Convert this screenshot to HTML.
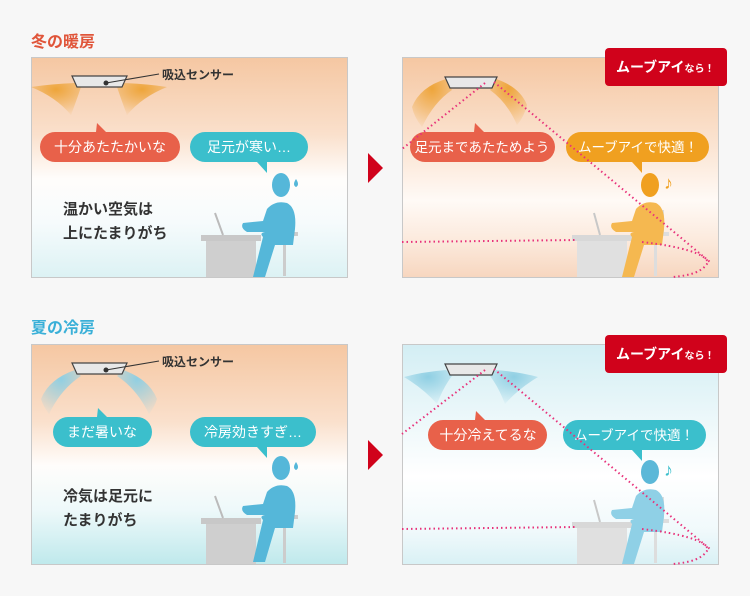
<!DOCTYPE html>
<html><head><meta charset="utf-8"><style>
body{margin:0;background:#f7f7f7;}
svg{display:block;font-family:"Liberation Sans","Noto Sans CJK JP",sans-serif;}
</style></head><body>
<svg width="750" height="596" viewBox="0 0 750 596" xmlns="http://www.w3.org/2000/svg">
<defs>
<linearGradient id="gw" x1="0" y1="0" x2="0" y2="1">
<stop offset="0" stop-color="#f5c7a2"/><stop offset="0.35" stop-color="#fae0cc"/><stop offset="0.55" stop-color="#fffdfb"/><stop offset="0.75" stop-color="#f6fbfc"/><stop offset="1" stop-color="#dcf2f4"/></linearGradient>
<linearGradient id="gw2" x1="0" y1="0" x2="0" y2="1">
<stop offset="0" stop-color="#f5c7a2"/><stop offset="0.4" stop-color="#fbe4d2"/><stop offset="0.65" stop-color="#fffaf6"/><stop offset="0.85" stop-color="#fbe8da"/><stop offset="1" stop-color="#f7d6bf"/></linearGradient>
<linearGradient id="gs" x1="0" y1="0" x2="0" y2="1">
<stop offset="0" stop-color="#f5c7a2"/><stop offset="0.35" stop-color="#fae0cc"/><stop offset="0.55" stop-color="#fffdfb"/><stop offset="0.75" stop-color="#eef9fa"/><stop offset="1" stop-color="#bfe9ec"/></linearGradient>
<linearGradient id="gs2" x1="0" y1="0" x2="0" y2="1">
<stop offset="0" stop-color="#d3eef4"/><stop offset="0.35" stop-color="#edf8fa"/><stop offset="0.6" stop-color="#ffffff"/><stop offset="0.85" stop-color="#f0f9fb"/><stop offset="1" stop-color="#d9f1f5"/></linearGradient>
<radialGradient id="fo" cx="0.5" cy="0.2" r="0.8"><stop offset="0" stop-color="#eea53a"/><stop offset="1" stop-color="#eea53a" stop-opacity="0.1"/></radialGradient>
<radialGradient id="fb" cx="0.5" cy="0.2" r="0.8"><stop offset="0" stop-color="#8fcfe3"/><stop offset="1" stop-color="#8fcfe3" stop-opacity="0.1"/></radialGradient>
</defs>

<text x="31" y="47" font-size="16" font-weight="bold" fill="#e0553a">冬の暖房</text>
<text x="31" y="333" font-size="16" font-weight="bold" fill="#3ab0d8">夏の冷房</text>
<polygon points="368,153 383,168 368,183" fill="#d0021b"/>
<polygon points="368,440 383,455 368,470" fill="#d0021b"/>

<!-- TL -->
<g transform="translate(31,57)">
<rect x="0.5" y="0.5" width="316" height="220" fill="url(#gw)" stroke="#c8c8c8"/>
<path d="M44,26 Q20,27 0,30 Q25,40 40,58 Q46,42 50,30Z" fill="url(#fo)"/>
<path d="M92,26 Q116,27 136,30 Q111,40 96,58 Q90,42 86,30Z" fill="url(#fo)"/>
<polygon points="41,19 96,19 91,30 46,30" fill="#e8e8e8" stroke="#444" stroke-width="1.2"/>
<circle cx="75" cy="26" r="2.5" fill="#333"/><line x1="75" y1="26" x2="128" y2="17" stroke="#333"/>
<text x="131" y="22" font-size="12" font-weight="bold" fill="#333">吸込センサー</text>
<rect x="9" y="75" width="140" height="30" rx="15" fill="#e8614a"/><polygon points="65,75 75,75 66,66" fill="#e8614a"/>
<text x="79" y="95" font-size="14" fill="#fff" text-anchor="middle">十分あたたかいな</text>
<rect x="159" y="75" width="118" height="30" rx="15" fill="#3bbfcc"/><polygon points="226,105 236,105 236,116" fill="#3bbfcc"/>
<text x="218" y="95" font-size="14" fill="#fff" text-anchor="middle">足元が寒い…</text>
<text x="32" y="157" font-size="15" font-weight="bold" fill="#333">温かい空気は</text>
<text x="32" y="181" font-size="15" font-weight="bold" fill="#333">上にたまりがち</text>
<g fill="#55b7d9">
<rect x="170" y="178" width="60" height="6" fill="#c8c8c8"/><rect x="175" y="184" width="50" height="36" fill="#cfcfcf"/>
<line x1="184" y1="156" x2="192" y2="178" stroke="#bbb" stroke-width="2"/>
<rect x="235" y="175" width="32" height="4" fill="#ccc"/><rect x="252" y="179" width="3" height="40" fill="#ccc"/><rect x="258" y="153" width="4" height="25" fill="#ccc"/>
<ellipse cx="250" cy="128" rx="9" ry="12"/>
<path d="M236,152 Q244,143 256,146 Q266,151 264,172 L262,188 L244,188 L234,220 L222,220 L232,180 Q228,176 234,175 L216,175 Q209,171 212,166 L232,164Z"/>
<path d="M265,122 q4,6 0,8 q-4,-2 0,-8z"/>
</g>
</g>

<!-- TR -->
<g transform="translate(402,57)">
<rect x="0.5" y="0.5" width="316" height="220" fill="url(#gw2)" stroke="#c8c8c8"/>
<path d="M44,22 Q18,30 10,50 Q12,60 20,70 Q32,45 50,33Z" fill="url(#fo)"/>
<path d="M94,22 Q118,30 125,48 Q122,60 115,68 Q105,45 88,33Z" fill="url(#fo)"/>
<polygon points="43,20 95,20 90,31 48,31" fill="#e8e8e8" stroke="#444" stroke-width="1.2"/>
<rect x="8" y="75" width="145" height="30" rx="15" fill="#e8614a"/><polygon points="72,75 82,75 73,66" fill="#e8614a"/>
<text x="80" y="95" font-size="13.5" fill="#fff" text-anchor="middle">足元まであたためよう</text>
<rect x="164" y="75" width="143" height="30" rx="15" fill="#f0a020"/><polygon points="230,105 240,105 240,116" fill="#f0a020"/>
<text x="236" y="95" font-size="13.5" fill="#fff" text-anchor="middle">ムーブアイで快適！</text>
<text x="262" y="132" font-size="18" fill="#f0a020">♪</text>
<g fill="#f0a020">
<rect x="170" y="178" width="60" height="6" fill="#d8d8d8"/><rect x="175" y="184" width="50" height="36" fill="#e0e0e0"/>
<line x1="192" y1="156" x2="198" y2="178" stroke="#c8c8c8" stroke-width="2"/>
<rect x="235" y="175" width="32" height="4" fill="#ddd"/><rect x="252" y="179" width="3" height="40" fill="#ddd"/><rect x="258" y="153" width="4" height="25" fill="#ddd"/>
<ellipse cx="248" cy="128" rx="9" ry="12"/>
<path d="M234,152 Q242,143 254,146 Q264,151 262,172 L260,188 L242,188 L232,220 L220,220 L230,180 Q226,176 232,175 L214,175 Q207,171 210,166 L230,164Z" fill="#f5b850"/>
</g>
<g fill="none" stroke="#e8317a" stroke-width="2" stroke-dasharray="1.5,3">
<path d="M83,26 L0,92"/><path d="M92,25 L308,205"/>
<path d="M0,185 L175,183"/><path d="M240,185 Q300,192 306,205 Q300,218 270,220"/>
</g>
</g>

<!-- BL -->
<g transform="translate(31,344)">
<rect x="0.5" y="0.5" width="316" height="220" fill="url(#gs)" stroke="#c8c8c8"/>
<path d="M44,26 Q18,35 10,55 Q12,62 18,70 Q30,45 50,32Z" fill="url(#fb)"/>
<path d="M92,26 Q118,35 126,55 Q124,62 118,70 Q106,45 86,32Z" fill="url(#fb)"/>
<polygon points="41,19 96,19 91,30 46,30" fill="#e8e8e8" stroke="#444" stroke-width="1.2"/>
<circle cx="75" cy="26" r="2.5" fill="#333"/><line x1="75" y1="26" x2="128" y2="17" stroke="#333"/>
<text x="131" y="22" font-size="12" font-weight="bold" fill="#333">吸込センサー</text>
<rect x="22" y="73" width="99" height="30" rx="15" fill="#3bbfcc"/><polygon points="66,73 76,73 67,64" fill="#3bbfcc"/>
<text x="71" y="93" font-size="14" fill="#fff" text-anchor="middle">まだ暑いな</text>
<rect x="159" y="73" width="126" height="30" rx="15" fill="#3bbfcc"/><polygon points="226,103 236,103 236,114" fill="#3bbfcc"/>
<text x="222" y="93" font-size="14" fill="#fff" text-anchor="middle">冷房効きすぎ…</text>
<text x="32" y="157" font-size="15" font-weight="bold" fill="#333">冷気は足元に</text>
<text x="32" y="181" font-size="15" font-weight="bold" fill="#333">たまりがち</text>
<g fill="#55b7d9">
<rect x="170" y="174" width="60" height="6" fill="#c8c8c8"/><rect x="175" y="180" width="50" height="40" fill="#cfcfcf"/>
<line x1="184" y1="152" x2="192" y2="174" stroke="#bbb" stroke-width="2"/>
<rect x="235" y="171" width="32" height="4" fill="#ccc"/><rect x="252" y="175" width="3" height="44" fill="#ccc"/><rect x="258" y="149" width="4" height="25" fill="#ccc"/>
<ellipse cx="250" cy="124" rx="9" ry="12"/>
<path d="M236,148 Q244,139 256,142 Q266,147 264,168 L262,184 L244,184 L234,218 L222,218 L232,176 Q228,172 234,171 L216,171 Q209,167 212,162 L232,160Z"/>
<path d="M265,118 q4,6 0,8 q-4,-2 0,-8z"/>
</g>
</g>

<!-- BR -->
<g transform="translate(402,344)">
<rect x="0.5" y="0.5" width="316" height="220" fill="url(#gs2)" stroke="#c8c8c8"/>
<path d="M44,26 Q20,28 2,33 Q22,45 35,60 Q42,42 50,32Z" fill="url(#fb)"/>
<path d="M94,26 Q118,28 136,33 Q116,45 103,60 Q96,42 88,32Z" fill="url(#fb)"/>
<polygon points="43,20 95,20 90,31 48,31" fill="#e8e8e8" stroke="#444" stroke-width="1.2"/>
<rect x="26" y="76" width="119" height="30" rx="15" fill="#e8614a"/><polygon points="73,76 83,76 74,67" fill="#e8614a"/>
<text x="86" y="96" font-size="14" fill="#fff" text-anchor="middle">十分冷えてるな</text>
<rect x="161" y="76" width="143" height="30" rx="15" fill="#3bbfcc"/><polygon points="230,106 240,106 240,117" fill="#3bbfcc"/>
<text x="232" y="96" font-size="13.5" fill="#fff" text-anchor="middle">ムーブアイで快適！</text>
<text x="262" y="132" font-size="18" fill="#3bbfcc">♪</text>
<g fill="#8fd0e6">
<rect x="170" y="178" width="60" height="6" fill="#d8d8d8"/><rect x="175" y="184" width="50" height="36" fill="#e0e0e0"/>
<line x1="192" y1="156" x2="198" y2="178" stroke="#c8c8c8" stroke-width="2"/>
<rect x="235" y="175" width="32" height="4" fill="#ddd"/><rect x="252" y="179" width="3" height="40" fill="#ddd"/><rect x="258" y="153" width="4" height="25" fill="#ddd"/>
<ellipse cx="248" cy="128" rx="9" ry="12" fill="#5bb8d8"/>
<path d="M234,152 Q242,143 254,146 Q264,151 262,172 L260,188 L242,188 L232,220 L220,220 L230,180 Q226,176 232,175 L214,175 Q207,171 210,166 L230,164Z"/>
</g>
<g fill="none" stroke="#e8317a" stroke-width="2" stroke-dasharray="1.5,3">
<path d="M83,26 L0,90"/><path d="M92,25 L308,205"/>
<path d="M0,185 L175,183"/><path d="M240,185 Q300,192 306,205 Q300,218 270,220"/>
</g>
</g>

<rect x="605" y="48" width="122" height="38" rx="4" fill="#d0021b"/>
<text x="616" y="72" font-size="14" font-weight="bold" fill="#fff">ムーブアイ<tspan font-size="10">なら！</tspan></text>
<rect x="605" y="335" width="122" height="38" rx="4" fill="#d0021b"/>
<text x="616" y="359" font-size="14" font-weight="bold" fill="#fff">ムーブアイ<tspan font-size="10">なら！</tspan></text>
</svg>
</body></html>
